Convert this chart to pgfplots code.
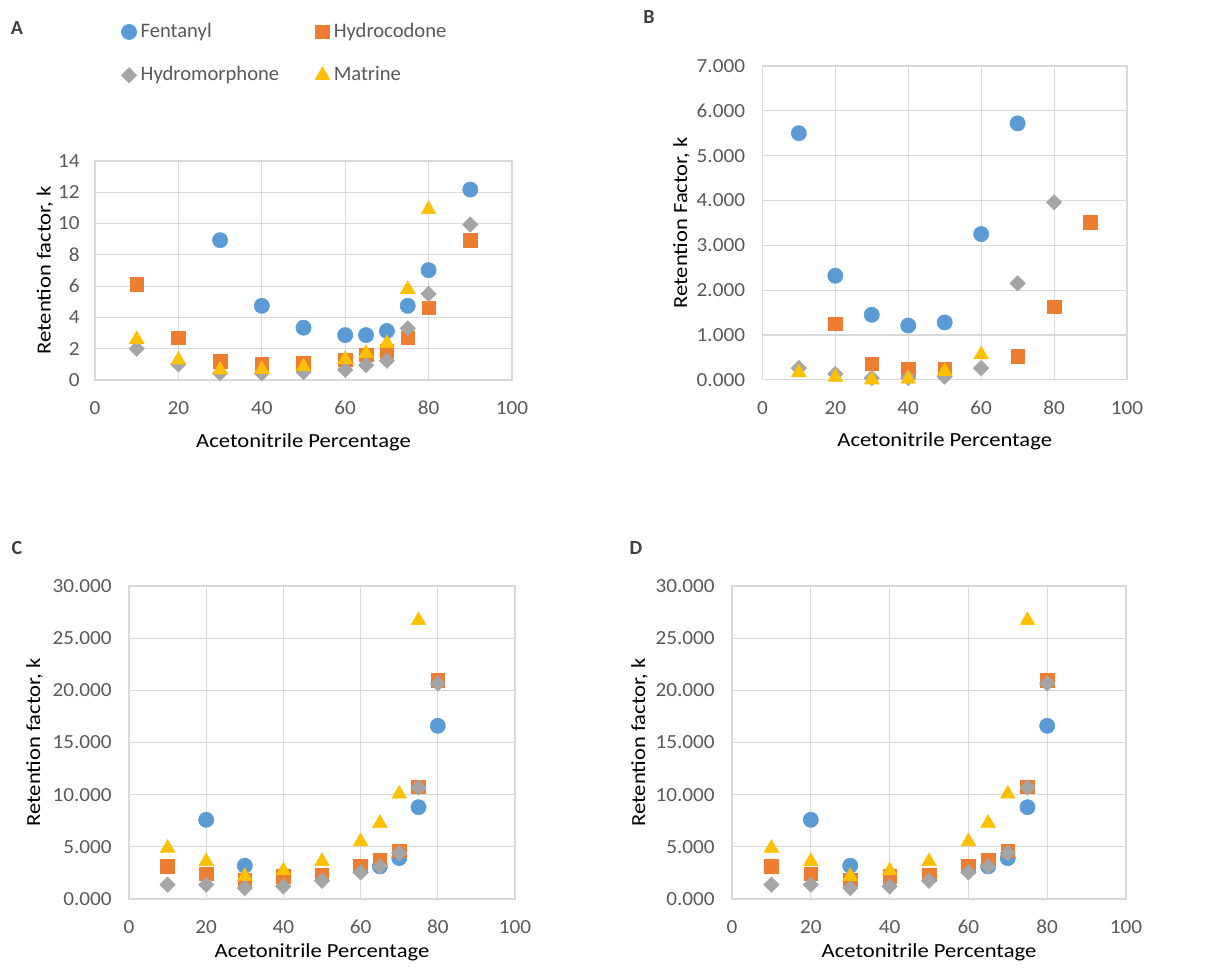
\documentclass[border=0pt]{standalone}
\usepackage{fontspec}
\setmainfont{Carlito}[FakeStretch=1.13]
\newfontfamily\legfont{Carlito}
\newfontfamily\tickfont{Carlito}[FakeStretch=1.06]
\usepackage{pgfplots}
\usepackage{pgfplotstable}
\pgfplotsset{compat=1.18}

\definecolor{cFen}{HTML}{5B9BD5}
\definecolor{cHyc}{HTML}{ED7D31}
\definecolor{cHym}{HTML}{A5A5A5}
\definecolor{cMat}{HTML}{FFC000}
\definecolor{txt}{HTML}{595959}
\definecolor{gridc}{HTML}{D9D9D9}

% retention factor k versus acetonitrile percentage
\pgfplotstableread{
x  fen   hyc   hym   mat
10 nan   6.13  2.00  2.60
20 nan   2.70  1.00  1.28
30 8.94  1.21  0.43  0.64
40 4.74  1.02  0.43  0.68
50 3.34  1.06  0.50  0.85
60 2.87  1.28  0.65  1.32
65 2.87  1.60  0.95  1.70
70 3.13  1.85  1.23  2.34
75 4.74  2.70  3.30  5.80
80 7.02  4.62  5.50  10.90
90 12.17 8.94  9.94  nan
}\dataA

\pgfplotstableread{
x  fen   hyc   hym   mat
10 5.50  nan   0.26  0.16
20 2.32  1.25  0.13  0.06
30 1.45  0.36  0.04  0.00
40 1.21  0.24  0.04  0.02
50 1.28  0.24  0.07  0.19
60 3.25  nan   0.26  0.56
70 5.72  0.52  2.15  nan
80 nan   1.63  3.96  nan
90 nan   3.51  nan   nan
}\dataB

\pgfplotstableread{
x  fen   hyc   hym   mat
10 nan   3.12  1.37  4.88
20 7.59  2.42  1.37  3.60
30 3.19  1.85  1.05  2.17
40 nan   2.17  1.21  2.71
50 nan   2.33  1.75  3.60
60 nan   3.12  2.55  5.51
65 3.12  3.76  3.12  7.27
70 3.92  4.62  4.40  10.07
75 8.80  10.77 10.68 26.70
80 16.60 20.97 20.66 nan
}\dataC

\pgfplotsset{
  panel/.style={
    scale only axis, clip=false,
    xmin=0, xmax=100, xtick={0,20,...,100},
    grid=major, major grid style={gridc, line width=0.55pt},
    axis line style={gridc, line width=0.55pt},
    tick style={draw=none},
    /pgf/number format/assume math mode=true,
    ticklabel style={font=\tickfont\fontsize{10}{12}\selectfont, text=txt, inner sep=0pt},
    xticklabel style={anchor=center, yshift=-14pt},
    yticklabel style={anchor=east, xshift=-8.5pt},
    label style={font=\fontsize{11.8}{13}\selectfont, text=txt},
    xlabel={Acetonitrile Percentage},
    only marks,
  },
  ylab/.style={every axis y label/.style={at={(axis description cs:#1,0.5)}, rotate=90, anchor=center}},
  xlab/.style={every axis x label/.style={at={(axis description cs:0.5,#1)}, anchor=center}},
  dec3/.style={yticklabel style={/pgf/number format/.cd, fixed, fixed zerofill, precision=3}},
  fen/.style={mark=*, mark size=3.8pt, color=cFen, mark options={line width=0.3pt}},
  hyc/.style={mark=square*, mark size=3.4pt, color=cHyc, mark options={line width=0.3pt}},
  hym/.style={mark=square*, mark size=2.7pt, color=cHym, mark options={rotate=45, line width=0.3pt}},
  mat/.style={mark=triangle*, mark size=4.2pt, color=cMat, mark options={line width=0.3pt}},
}

\newcommand{\fourseries}[1]{%
  \addplot[fen] table[x=x, y=fen] {#1};
  \addplot[hyc] table[x=x, y=hyc] {#1};
  \addplot[hym] table[x=x, y=hym] {#1};
  \addplot[mat] table[x=x, y=mat] {#1};
}

\begin{document}
\begin{tikzpicture}
\path[use as bounding box] (0,0) rectangle (614pt,486pt);

\tikzset{panellabel/.style={font=\legfont\bfseries\fontsize{10}{12}\selectfont, text=black!75}}
\node[panellabel] at (8.5pt,472pt) {A};
\node[panellabel] at (324.5pt,477.5pt) {B};
\node[panellabel] at (8.5pt,212pt) {C};
\node[panellabel] at (318pt,212pt) {D};

% Panel A
\begin{axis}[panel, at={(47.5pt,296pt)}, anchor=south west,
  width=208.5pt, height=109.5pt,
  ymin=0, ymax=14, ytick={0,2,...,14},
  yticklabel style={xshift=1pt},
  ylabel={Retention factor, k}, ylab=-0.12, xlab=-0.283,
  legend columns=2, legend cell align=left,
  legend style={draw=none, fill=none, at={(0.048,1.667)}, anchor=north west,
    font=\legfont\fontsize{10.3}{12}\selectfont, text=txt,
    /tikz/every even column/.append style={column sep=16pt},
    row sep=9pt},
]
\fourseries{\dataA}
\legend{Fentanyl, Hydrocodone, Hydromorphone, Matrine}
\end{axis}

% Panel B
\begin{axis}[panel, dec3, at={(381.2pt,296.1pt)}, anchor=south west,
  width=182.3pt, height=156.9pt,
  ymin=0, ymax=7, ytick={0,1,...,7},
  ylabel={Retention Factor, k}, ylab=-0.222, xlab=-0.197,
]
\fourseries{\dataB}
\end{axis}

% Panel C
\begin{axis}[panel, dec3, at={(64.5pt,36.5pt)}, anchor=south west,
  width=193pt, height=156.5pt,
  ymin=0, ymax=30, ytick={0,5,...,30},
  ylabel={Retention factor, k}, ylab=-0.245, xlab=-0.169,
]
\fourseries{\dataC}
\end{axis}

% Panel D
\begin{axis}[panel, dec3, at={(366pt,36.5pt)}, anchor=south west,
  width=197pt, height=156.5pt,
  ymin=0, ymax=30, ytick={0,5,...,30},
  ylabel={Retention factor, k}, ylab=-0.235, xlab=-0.169,
]
\fourseries{\dataC}
\end{axis}
\end{tikzpicture}
\end{document}
